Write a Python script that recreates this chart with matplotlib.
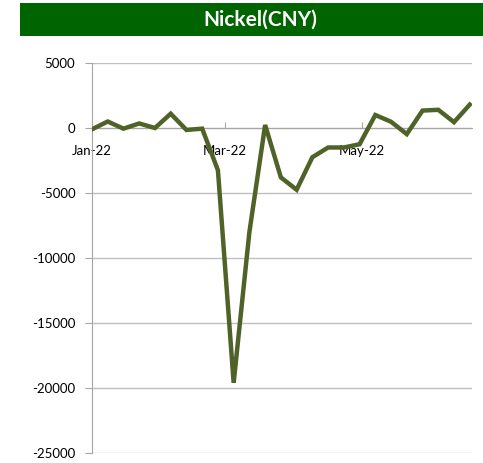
import matplotlib
matplotlib.use('Agg')
import matplotlib.pyplot as plt
import matplotlib.dates as mdates
import numpy as np
import pandas as pd

# weekly change, Nickel (CNY)
dates = pd.date_range('2022-01-01', periods=25, freq='7D')
values = [-100, 500, -50, 350, 0, 1100, -150, -50, -3250, -19600, -8000, 230,
          -3800, -4750, -2250, -1500, -1500, -1250, 1000, 480, -470, 1340, 1400, 450, 1800]
y_ticks = [5000, 0, -5000, -10000, -15000, -20000, -25000]
x_ticks = pd.to_datetime(['2022-01-01', '2022-03-01', '2022-05-01'])

plt.rcParams['font.family'] = ['Lato', 'DejaVu Sans']

fig = plt.figure(figsize=(4.83, 4.63), dpi=100)

# title band
band = fig.add_axes([20 / 483, 1 - 36 / 463, 463 / 483, 33 / 463])
band.set_facecolor('#006400')
band.set_xticks([])
band.set_yticks([])
for s in band.spines.values():
    s.set_visible(False)
band.text(0.52, 0.5, 'Nickel(CNY)', color='white', fontsize=15, fontweight='bold',
          ha='center', va='center', transform=band.transAxes)

ax = fig.add_axes([92 / 483, 1 - 453 / 463, (472 - 92) / 483, (453 - 63) / 463])
ax.plot(dates, values, color='#4F6228', lw=3.2, solid_joinstyle='miter', zorder=3)

ax.set_ylim(-25000, 5000)
ax.set_yticks(y_ticks)
ax.set_yticklabels([str(v) for v in y_ticks])
ax.set_xlim(dates[0], pd.Timestamp('2022-06-19'))
ax.set_xticks(x_ticks)
ax.xaxis.set_major_formatter(mdates.DateFormatter('%b-%y'))

ax.grid(axis='y', color='#BFBFBF', lw=1, zorder=0)
ax.spines['top'].set_visible(False)
ax.spines['right'].set_visible(False)
ax.spines['bottom'].set_position(('data', 0))
ax.spines['bottom'].set_color('#A6A6A6')
ax.spines['left'].set_color('#A6A6A6')

ax.tick_params(axis='y', direction='out', length=5, color='#A6A6A6', labelsize=9.5, pad=7)
ax.tick_params(axis='x', direction='in', length=4, color='#A6A6A6', labelsize=9.5, pad=12)

fig.savefig('out.png', dpi=100)
